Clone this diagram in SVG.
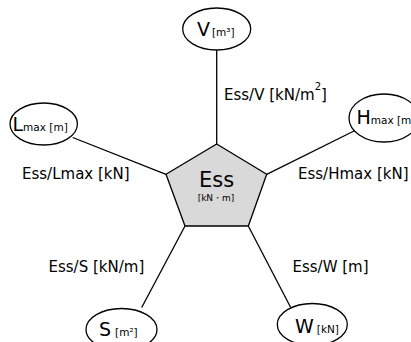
<svg xmlns="http://www.w3.org/2000/svg" width="411" height="342" viewBox="0 0 411 342">
<style>
.ln{stroke:#000;stroke-width:1.3;fill:none}
.el{fill:#fff;stroke:#000;stroke-width:1.3}
.t{font-family:"DejaVu Sans",sans-serif;fill:#000}
.lab{font-size:15px}
.big{font-size:19px}
.sm{font-size:10.5px}
</style>
<rect width="411" height="342" fill="#fff"/>
<g id="connectors">
<line class="ln" x1="216.7" y1="144" x2="216.7" y2="50"/>
<line class="ln" x1="166" y1="174.3" x2="72.7" y2="137.5"/>
<line class="ln" x1="266.7" y1="174.3" x2="356" y2="130"/>
<line class="ln" x1="185" y1="226" x2="141.7" y2="307.5"/>
<line class="ln" x1="248.3" y1="226" x2="290.7" y2="307.5"/>
</g>
<g id="edge-labels" class="t lab">
<text x="224" y="100">Ess/V [kN/m<tspan dx="0" dy="-10" font-size="10">2</tspan><tspan dy="10">]</tspan></text>
<text x="22" y="179">Ess/Lmax [kN]</text>
<text x="298" y="179">Ess/Hmax [kN]</text>
<text x="48.5" y="271.5">Ess/S [kN/m]</text>
<text x="292.5" y="271.5">Ess/W [m]</text>
</g>
<g id="node-ess">
<polygon points="216.7,144 266.7,174.3 248.3,226 185,226 166,174.3" fill="#d9d9d9" stroke="#000" stroke-width="1.3"/>
<text class="t" x="216.5" y="187" font-size="21" text-anchor="middle">Ess</text>
<text class="t" x="216" y="201" font-size="9" text-anchor="middle">[kN・m]</text>
</g>
<g id="node-v">
<ellipse class="el" cx="216.7" cy="29" rx="34" ry="21"/>
<text class="t" x="197" y="36"><tspan class="big">V</tspan><tspan class="sm" dx="2">[m³]</tspan></text>
</g>
<g id="node-lmax">
<ellipse class="el" cx="43.7" cy="124" rx="33.7" ry="21"/>
<text class="t" x="12.5" y="131"><tspan class="big">L</tspan><tspan class="sm" dx="0">max [m]</tspan></text>
</g>
<g id="node-hmax">
<ellipse class="el" cx="384" cy="118" rx="35" ry="24"/>
<text class="t" x="356.5" y="124"><tspan class="big">H</tspan><tspan class="sm">max [m]</tspan></text>
</g>
<g id="node-s">
<ellipse class="el" cx="121.5" cy="329.5" rx="35.5" ry="21"/>
<text class="t" x="99" y="336"><tspan class="big">S</tspan><tspan class="sm" dx="4">[m²]</tspan></text>
</g>
<g id="node-w">
<ellipse class="el" cx="312.3" cy="324.5" rx="35" ry="21"/>
<text class="t" x="295" y="333"><tspan class="big">W</tspan><tspan class="sm" dx="3">[kN]</tspan></text>
</g>
</svg>
